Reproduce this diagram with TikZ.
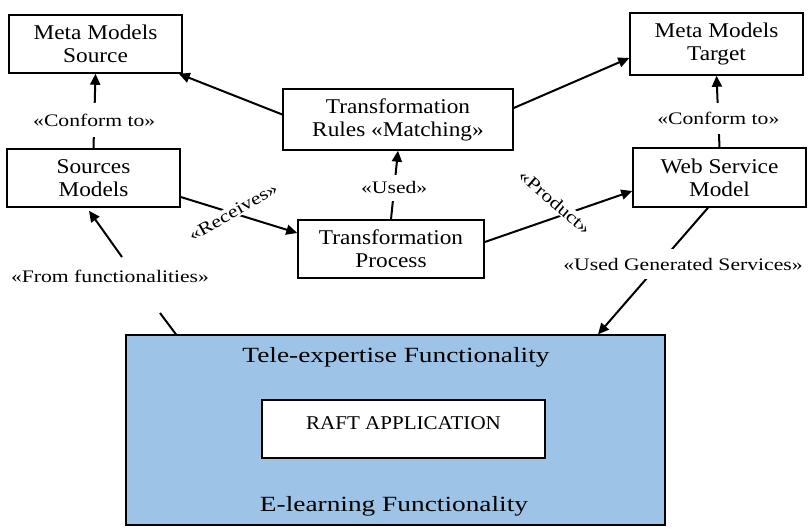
\documentclass[tikz,border=0pt]{standalone}
\usepackage{fontspec}
\setmainfont{Liberation Serif}
\newfontfamily\boxf{Liberation Serif}[FakeStretch=1.11]
\newfontfamily\lblf{Liberation Serif}[FakeStretch=1.23]
\newfontfamily\bigf{Liberation Serif}[FakeStretch=1.26]
\newfontfamily\raftf{Liberation Serif}[FakeStretch=1.08]
\usetikzlibrary{arrows.meta}
\definecolor{bigblue}{HTML}{9DC3E6}
\begin{document}
\begin{tikzpicture}[x=1pt,y=-1pt,
  boxtext/.style={font=\boxf\fontsize{21}{23}\selectfont, align=center},
  mbox/.style={draw, line width=1.5pt, inner sep=0pt, fill=white, boxtext},
  lbl/.style={font=\lblf\fontsize{17.6}{20}\selectfont, fill=white, inner xsep=1pt},
  conn/.style={line width=2pt, -{Triangle[length=11pt,width=10pt]}},
  plain/.style={line width=2pt}]
\useasboundingbox (0,0) rectangle (810,529);
% big box
\node[draw, line width=1.2pt, fill=bigblue, minimum width=539pt, minimum height=190pt, inner sep=0pt] (big) at (395.5,430) {};
\node[font=\bigf\fontsize{21.7}{26}\selectfont] (tele) at (396,357) {Tele-expertise Functionality};
\node[font=\bigf\fontsize{21.7}{26}\selectfont] (elearn) at (394,506) {E-learning Functionality};
\node[draw, line width=1.2pt, fill=white, minimum width=283pt, minimum height=58pt, inner sep=0pt, font=\raftf\fontsize{19.5}{22}\selectfont] (raft) at (403.5,429) {\smash{RAFT APPLICATION}};
% boxes
\node[mbox, minimum width=173pt, minimum height=58pt] (msrc) at (95.5,44) {Meta Models\\Source};
\node[mbox, minimum width=173pt, minimum height=58pt] (smod) at (93.5,178) {Sources\\Models};
\node[mbox, minimum width=230pt, minimum height=61pt] (rules) at (398,119.5) {Transformation\\Rules «Matching»};
\node[mbox, minimum width=186pt, minimum height=58pt] (proc) at (391,249) {Transformation\\Process};
\node[mbox, minimum width=173pt, minimum height=62pt] (mtgt) at (716.5,44) {Meta Models\\Target};
\node[mbox, minimum width=173pt, minimum height=59pt] (wsm) at (719.5,177.5) {Web Service\\Model};
% connectors
\draw[conn] (smod.north) -- node[lbl, pos=0.38, inner ysep=11pt] (c1) {«Conform to»} (msrc.south);
\draw[conn] (wsm.north) -- node[lbl, pos=0.40, inner ysep=9pt] (c2) {«Conform to»} (mtgt.south);
\draw[conn] (proc.north) -- node[lbl, pos=0.46, inner ysep=7pt] (c3) {«Used»} (rules.south);
\draw[conn] ([yshift=5pt]rules.west) -- ([xshift=-4pt]msrc.south east);
\draw[conn] ([yshift=11.5pt]rules.east) -- ([yshift=-14pt]mtgt.west);
\draw[conn] ([yshift=-19pt]smod.east) -- ([yshift=16pt]proc.west);
\node[lbl, rotate=30, inner sep=1pt] (rec) at (233,212) {«Receives»};
\draw[conn] ([yshift=7pt]proc.east) -- ([yshift=-13.5pt]wsm.west);
\node[lbl, rotate=-41, inner sep=1pt] (prod) at (555,202) {«Product»};
\draw[conn] ([xshift=-11.5pt]wsm.south) -- ([xshift=202.5pt]big.north);
\node[lbl, inner ysep=9pt] (ugs) at (683,264) {«Used Generated Services»};
\coordinate (f1) at (122,257);
\coordinate (f2) at (160,313);
\draw[plain] ([xshift=-219.5pt]big.north) -- (f2);
\draw[conn] (f1) -- ([xshift=-4.5pt,yshift=-3pt]smod.south);
\node[lbl] (fromf) at (110,276) {«From functionalities»};
\end{tikzpicture}
\end{document}
